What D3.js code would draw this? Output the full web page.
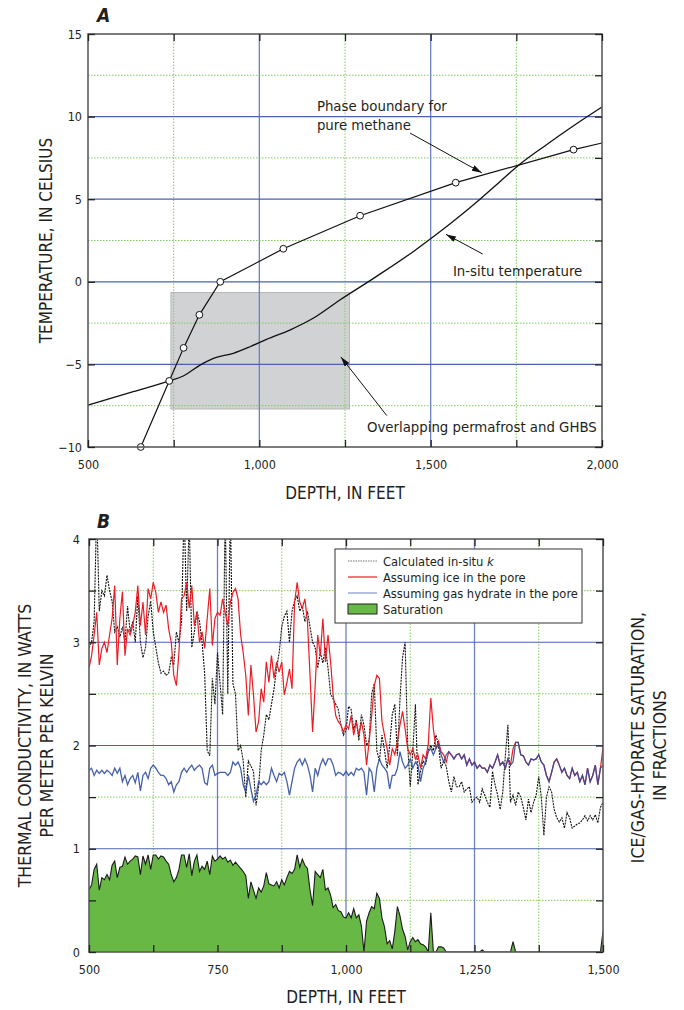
<!DOCTYPE html>
<html>
<head>
<meta charset="utf-8">
<script src="https://cdn.jsdelivr.net/npm/d3@7"></script>
<style>
  body { margin: 0; background: #fff; }
  svg text { font-family: 'Liberation Sans Narrow', 'Arial Narrow', 'DejaVu Sans Condensed', sans-serif; fill: #231f20; }
</style>
</head>
<body>
<svg id="chart"></svg>
<script>
const width = 684;
const height = 1010;

// ---- Panel A: temperature vs depth ----
const boundaryDepth = [654, 737, 779, 825, 886, 1070, 1294, 1573, 1917];
const boundaryTemp = [-10, -6, -4, -2, 0, 2, 4, 6, 8];
const boundaryEndDepth = 2000;
const boundaryEndTemp = 8.4;

const insituDepth = [500, 632, 737, 778, 827, 866, 924, 973, 1021, 1089, 1157, 1235, 1340, 1454, 1493, 1556, 1644, 1702, 1761, 1838, 1916, 2000];
const insituTemp = [-7.46, -6.65, -6.0, -5.7, -5.04, -4.63, -4.33, -3.93, -3.48, -2.92, -2.21, -1.1, 0.3, 1.9, 2.5, 3.5, 5.0, 6.06, 7.13, 8.3, 9.43, 10.58];

const overlapDepth = [742, 1263];
const overlapTemp = [-7.7, -0.65];

const tempLabels = [-10, -5, 0, 5, 10, 15];
const tempTicksRight = [-10, -7.5, -5, -2.5, 0, 2.5, 5, 7.5, 10, 12.5, 15];
const depthLabelsA = [500, 1000, 1500, 2000];
const depthTicksA = [500, 750, 1000, 1250, 1500, 1750, 2000];

// ---- Panel B: thermal conductivity logs ----
const logDepth = [
  500,505,510,515,520,525,530,535,540,545,550,555,560,565,570,575,580,585,590,595,
  600,605,610,615,620,625,630,635,640,645,650,655,660,665,670,675,680,685,690,695,
  700,705,710,715,720,725,730,735,740,745,750,755,760,765,770,775,780,785,790,795,
  800,805,810,815,820,825,830,835,840,845,850,855,860,865,870,875,880,885,890,895,
  900,905,910,915,920,925,930,935,940,945,950,955,960,965,970,975,980,985,990,995,
  1000,1005,1010,1015,1020,1025,1030,1035,1040,1045,1050,1055,1060,1065,1070,1075,1080,1085,1090,1095,
  1100,1105,1110,1115,1120,1125,1130,1135,1140,1145,1150,1155,1160,1165,1170,1175,1180,1185,1190,1195,
  1200,1205,1210,1215,1220,1225,1230,1235,1240,1245,1250,1255,1260,1265,1270,1275,1280,1285,1290,1295,
  1300,1305,1310,1315,1320,1325,1330,1335,1340,1345,1350,1355,1360,1365,1370,1375,1380,1385,1390,1395,
  1400,1405,1410,1415,1420,1425,1430,1435,1440,1445,1450,1455,1460,1465,1470,1475,1480,1485,1490,1495,
  1500
];

const kCalculated = [
  2.95,3.0,3.2,4.3,3.3,3.5,3.45,3.65,3.5,3.4,3.1,3.15,3.05,3.15,3.0,3.35,3.1,3.2,3.0,3.45,
  3.0,2.85,2.95,3.25,3.4,3.1,2.95,2.8,2.7,2.72,2.68,2.7,2.85,2.78,3.1,3.0,3.2,4.3,3.3,4.2,
  2.95,3.1,3.3,3.2,3.0,2.7,1.95,1.9,2.65,2.4,2.9,2.6,2.3,4.3,2.5,4.3,2.6,2.5,1.95,2.0,
  1.85,1.5,1.85,1.8,1.75,1.42,1.6,1.95,2.1,2.3,2.25,2.4,2.55,2.75,2.9,3.15,3.25,3.3,3.0,3.3,
  3.4,3.45,3.3,3.35,3.2,3.3,3.15,3.0,2.95,2.75,2.9,2.8,2.95,2.75,2.5,2.45,2.4,2.35,2.2,2.1,
  2.15,2.38,2.35,2.15,2.25,2.05,2.3,2.2,2.0,2.05,2.5,2.6,1.95,1.85,2.1,1.95,1.78,2.0,2.3,2.4,
  1.9,2.45,2.85,3.0,2.0,1.6,1.95,2.4,1.62,1.75,1.85,1.82,1.95,2.0,1.95,2.1,2.0,1.78,1.85,1.8,
  1.65,1.55,1.7,1.6,1.6,1.65,1.55,1.58,1.6,1.45,1.48,1.5,1.45,1.58,1.52,1.45,1.4,1.75,1.62,1.52,
  1.38,1.55,1.9,2.2,1.45,1.52,1.42,1.55,1.5,1.4,1.28,1.48,1.35,1.45,1.52,1.7,1.5,1.13,1.5,1.6,
  1.55,1.38,1.3,1.26,1.3,1.2,1.35,1.3,1.2,1.22,1.24,1.25,1.28,1.32,1.27,1.32,1.28,1.33,1.25,1.4,
  1.45
];

const kIce = [
  2.75,2.87,3.07,3.29,2.78,2.94,3.0,2.9,3.07,3.23,3.55,2.78,3.23,3.49,2.87,3.13,3.07,3.16,3.29,3.55,
  3.16,3.39,3.07,3.52,3.42,3.58,3.48,3.29,3.39,3.29,3.36,3.13,3.0,2.68,2.58,2.9,3.42,3.45,3.58,3.33,
  3.55,3.16,3.29,3.0,3.1,2.94,3.23,3.52,2.97,3.23,3.29,3.26,3.42,3.29,3.16,3.39,3.48,3.52,3.42,3.07,
  2.9,2.68,2.29,2.78,2.49,2.13,2.23,2.55,2.42,2.81,2.61,2.87,2.65,2.81,2.71,2.81,2.49,2.61,2.74,2.55,
  3.39,3.58,3.39,3.33,3.42,3.2,2.68,2.13,2.58,3.07,2.87,3.23,2.81,3.07,2.81,2.49,2.29,2.23,2.2,2.13,
  2.2,2.16,2.29,2.1,2.23,2.1,2.23,2.1,1.81,2.04,2.29,2.58,2.68,2.65,2.23,2.1,1.97,1.81,1.97,1.91,
  2.04,2.2,2.33,2.16,1.97,1.91,1.97,1.87,1.91,1.78,1.91,1.87,2.01,2.46,2.16,1.97,2.04,1.94,1.91,1.84,
  1.94,1.91,1.87,1.91,1.92,1.87,1.91,1.81,1.87,1.81,1.84,1.78,1.81,1.78,1.78,1.74,1.81,1.78,1.84,1.91,
  1.81,1.84,1.78,1.87,1.81,1.97,2.03,2.03,1.91,1.9,1.84,1.81,1.87,1.86,1.87,1.91,1.84,1.81,1.71,1.65,
  1.74,1.84,1.87,1.81,1.74,1.78,1.71,1.68,1.78,1.71,1.74,1.65,1.71,1.62,1.78,1.65,1.71,1.81,1.62,1.78,
  1.98
];

const kHydrate = [
  1.76,1.78,1.71,1.76,1.73,1.76,1.73,1.76,1.74,1.71,1.78,1.73,1.78,1.65,1.71,1.62,1.68,1.71,1.64,1.74,
  1.56,1.71,1.74,1.68,1.78,1.81,1.78,1.74,1.71,1.71,1.68,1.62,1.65,1.55,1.62,1.65,1.74,1.78,1.74,1.78,
  1.81,1.76,1.79,1.81,1.78,1.64,1.62,1.78,1.81,1.71,1.73,1.74,1.74,1.74,1.71,1.74,1.84,1.81,1.84,1.78,
  1.62,1.55,1.71,1.58,1.46,1.52,1.65,1.62,1.65,1.62,1.65,1.78,1.71,1.65,1.73,1.71,1.74,1.65,1.52,1.65,
  1.78,1.84,1.87,1.81,1.87,1.81,1.71,1.55,1.78,1.71,1.81,1.87,1.81,1.87,1.87,1.81,1.71,1.74,1.73,1.71,
  1.75,1.71,1.74,1.71,1.78,1.76,1.78,1.74,1.52,1.78,1.74,1.55,1.78,1.87,1.81,1.78,1.74,1.58,1.71,1.71,
  1.78,1.94,1.84,1.78,1.81,1.87,1.78,1.84,1.81,1.65,1.78,1.84,1.94,1.97,1.91,1.97,2.01,1.91,1.84,1.91,
  1.94,1.91,1.87,1.91,1.92,1.87,1.91,1.81,1.87,1.81,1.84,1.78,1.81,1.78,1.78,1.74,1.81,1.78,1.84,1.91,
  1.81,1.84,1.78,1.87,1.81,1.84,2.03,2.03,1.91,1.9,1.84,1.81,1.87,1.86,1.87,1.91,1.84,1.81,1.71,1.65,
  1.74,1.84,1.87,1.81,1.74,1.78,1.71,1.68,1.78,1.71,1.74,1.65,1.71,1.62,1.78,1.65,1.71,1.81,1.62,1.78,
  1.81
];

const saturation = [
  0.6,0.65,0.8,0.85,0.6,0.72,0.7,0.75,0.7,0.84,0.88,0.72,0.82,0.83,0.92,0.85,0.88,0.9,0.93,0.92,
  0.75,0.93,0.85,0.94,0.8,0.94,0.94,0.9,0.93,0.92,0.88,0.85,0.75,0.68,0.72,0.8,0.94,0.94,0.82,0.95,
  0.74,0.88,0.94,0.78,0.83,0.8,0.88,0.75,0.93,0.88,0.9,0.93,0.9,0.92,0.87,0.89,0.84,0.87,0.84,0.81,
  0.78,0.74,0.52,0.68,0.6,0.52,0.62,0.58,0.64,0.77,0.66,0.65,0.64,0.68,0.62,0.7,0.65,0.72,0.78,0.76,
  0.8,0.94,0.82,0.9,0.84,0.81,0.6,0.45,0.78,0.75,0.72,0.8,0.6,0.62,0.55,0.43,0.46,0.4,0.39,0.34,
  0.33,0.38,0.33,0.42,0.33,0.36,0.25,0.0,0.3,0.38,0.44,0.42,0.57,0.52,0.33,0.24,0.08,0.11,0.03,0.2,
  0.44,0.35,0.22,0.15,0.02,0.1,0.14,0.1,0.12,0.08,0.07,0.05,0.0,0.38,0.0,0.0,0.05,0.05,0.04,0.0,
  0,0,0,0,0,0,0,0,0,0,0,0,0,0.02,0,0,0,0,0,0,
  0,0,0,0,0,0.1,0,0,0,0,0,0,0,0,0,0,0,0,0,0,
  0,0,0,0,0,0,0,0,0,0,0,0,0,0,0,0,0,0,0,0,
  0.2
];

const kLabels = [0, 1, 2, 3, 4];
const kTicks = [0, 0.5, 1, 1.5, 2, 2.5, 3, 3.5, 4];
const depthLabelsB = [500, 750, 1000, 1250, 1500];
const depthTicksB = [500, 625, 750, 875, 1000, 1125, 1250, 1375, 1500];

const legendNames = ["Calculated in-situ ", "Assuming ice in the pore", "Assuming gas hydrate in the pore", "Saturation"];

const RED = "#ec1c24";
const BLUE = "#2c4b9e";
const GREEN = "#68b845";
const GRID_BLUE = "#4a63ad";
const GRID_GREEN = "#7fcc5c";

const svg = d3.select("#chart").attr("width", width).attr("height", height);
const defs = svg.append("defs");

defs.append("marker")
  .attr("id", "arrow")
  .attr("viewBox", "0 0 10 6")
  .attr("refX", 10).attr("refY", 3)
  .attr("markerWidth", 10).attr("markerHeight", 6)
  .attr("markerUnits", "userSpaceOnUse")
  .attr("orient", "auto")
  .append("path").attr("d", "M0,0L10,3L0,6Z").attr("fill", "#111");

const fmt = d3.format(",");

function grid(g, x, y, majorX, minorX, majorY, minorY) {
  const [x0, x1] = x.range();
  const [y0, y1] = y.range();
  g.selectAll(null).data(minorX).join("line")
    .attr("x1", d => x(d)).attr("x2", d => x(d)).attr("y1", y0).attr("y2", y1)
    .attr("stroke", GRID_GREEN).attr("stroke-width", 1).attr("stroke-dasharray", "1.5,1.5");
  g.selectAll(null).data(minorY).join("line")
    .attr("x1", x0).attr("x2", x1).attr("y1", d => y(d)).attr("y2", d => y(d))
    .attr("stroke", GRID_GREEN).attr("stroke-width", 1).attr("stroke-dasharray", "1.5,1.5");
  g.selectAll(null).data(majorX).join("line")
    .attr("x1", d => x(d)).attr("x2", d => x(d)).attr("y1", y0).attr("y2", y1)
    .attr("stroke", "#6e80c2").attr("stroke-width", 1.3);
  g.selectAll(null).data(majorY).join("line")
    .attr("x1", x0).attr("x2", x1).attr("y1", d => y(d)).attr("y2", d => y(d))
    .attr("stroke", GRID_BLUE).attr("stroke-width", 1.2);
}

function styleAxis(sel) {
  sel.select(".domain").remove();
  sel.selectAll(".tick line").attr("stroke", "#222").attr("stroke-width", 1.3);
  sel.selectAll(".tick text").style("font-size", "12.5px").attr("fill", "#231f20");
}

function frame(g, x, y) {
  const [x0, x1] = x.range();
  const [y0, y1] = y.range();
  g.append("rect").attr("x", x0).attr("y", y1).attr("width", x1 - x0).attr("height", y0 - y1)
    .attr("fill", "none").attr("stroke", "#5c5c5c").attr("stroke-width", 1.6);
}

function axes(g, x, y, xTicks, xLabels, yTicks, yLabels, yTicksRight, yPad) {
  const [x0, x1] = x.range();
  const [y0, y1] = y.range();
  g.append("g").attr("transform", `translate(0,${y0})`)
    .call(d3.axisBottom(x).tickValues(xTicks).tickSizeInner(-7).tickSizeOuter(0).tickPadding(13)
      .tickFormat(d => xLabels.includes(d) ? fmt(d) : ""))
    .call(styleAxis);
  g.append("g").attr("transform", `translate(0,${y1})`)
    .call(d3.axisTop(x).tickValues(xTicks).tickSizeInner(-7).tickSizeOuter(0).tickFormat(""))
    .call(styleAxis);
  g.append("g").attr("transform", `translate(${x0},0)`)
    .call(d3.axisLeft(y).tickValues(yTicks).tickSizeInner(-7).tickSizeOuter(0).tickPadding(yPad)
      .tickFormat(d => yLabels.includes(d) ? fmt(d) : ""))
    .call(styleAxis);
  g.append("g").attr("transform", `translate(${x1},0)`)
    .call(d3.axisRight(y).tickValues(yTicksRight).tickSizeInner(-7).tickSizeOuter(0).tickFormat(""))
    .call(styleAxis);
}

// ================= Panel A =================
const xA = d3.scaleLinear().domain([500, 2000]).range([88, 602]);
const yA = d3.scaleLinear().domain([-10, 15]).range([447, 34]);
const gA = svg.append("g");

gA.append("rect")
  .attr("x", xA(overlapDepth[0])).attr("y", yA(overlapTemp[1]))
  .attr("width", xA(overlapDepth[1]) - xA(overlapDepth[0]))
  .attr("height", yA(overlapTemp[0]) - yA(overlapTemp[1]))
  .attr("fill", "#d1d2d4").attr("stroke", "#b5b6b8").attr("stroke-width", 1);

grid(gA, xA, yA, [1000, 1500], [750, 1250, 1750], [-5, 0, 5, 10], [-7.5, -2.5, 2.5, 7.5, 12.5]);

const insitu = insituDepth.map((d, i) => [d, insituTemp[i]]);
gA.append("path").datum(insitu)
  .attr("d", d3.line().x(d => xA(d[0])).y(d => yA(d[1])).curve(d3.curveMonotoneX))
  .attr("fill", "none").attr("stroke", "#111").attr("stroke-width", 1.3);

const boundary = boundaryDepth.map((d, i) => [d, boundaryTemp[i]]);
gA.append("path").datum(boundary.concat([[boundaryEndDepth, boundaryEndTemp]]))
  .attr("d", d3.line().x(d => xA(d[0])).y(d => yA(d[1])))
  .attr("fill", "none").attr("stroke", "#111").attr("stroke-width", 1.2);

gA.selectAll("circle.pt").data(boundary).join("circle")
  .attr("class", "pt")
  .attr("cx", d => xA(d[0])).attr("cy", d => yA(d[1])).attr("r", 3.4)
  .attr("fill", "#fff").attr("stroke", "#111").attr("stroke-width", 1);

frame(gA, xA, yA);
axes(gA, xA, yA, depthTicksA, depthLabelsA, tempLabels, tempLabels, tempTicksRight, 6);

// annotations (positions in data units)
const notes = [
  { lines: ["Phase boundary for", "pure methane"], at: [1168, 10.34], from: [1440, 9.0], to: [1649, 6.6] },
  { lines: ["In-situ temperature"], at: [1565, 0.35], from: [1652, 1.68], to: [1545, 2.87] },
  { lines: ["Overlapping permafrost and GHBS"], at: [1314, -9.09], from: [1372, -8.1], to: [1238, -4.55] }
];
notes.forEach(n => {
  const t = gA.append("text").attr("x", xA(n.at[0])).attr("y", yA(n.at[1])).style("font-size", "14.8px");
  n.lines.forEach((l, i) => t.append("tspan").attr("x", xA(n.at[0])).attr("dy", i ? 19.5 : 0).text(l));
  gA.append("line")
    .attr("x1", xA(n.from[0])).attr("y1", yA(n.from[1]))
    .attr("x2", xA(n.to[0])).attr("y2", yA(n.to[1]))
    .attr("stroke", "#111").attr("stroke-width", 1).attr("marker-end", "url(#arrow)");
});

gA.append("text").attr("x", 97).attr("y", 22).text("A")
  .style("font-size", "19px").style("font-weight", "bold").style("font-style", "italic");
gA.append("text").attr("x", (xA.range()[0] + xA.range()[1]) / 2).attr("y", 499)
  .attr("text-anchor", "middle").style("font-size", "17px").text("DEPTH, IN FEET");
gA.append("text").attr("transform", `translate(52,${(yA.range()[0] + yA.range()[1]) / 2}) rotate(-90)`)
  .attr("text-anchor", "middle").style("font-size", "17px").text("TEMPERATURE, IN CELSIUS");

// ================= Panel B =================
const xB = d3.scaleLinear().domain([500, 1500]).range([89, 603]);
const yB = d3.scaleLinear().domain([0, 4]).range([952, 539]);
const gB = svg.append("g");

defs.append("clipPath").attr("id", "clipB").append("rect")
  .attr("x", xB.range()[0]).attr("y", yB.range()[1])
  .attr("width", xB.range()[1] - xB.range()[0]).attr("height", yB.range()[0] - yB.range()[1]);

grid(gB, xB, yB, [750, 1000, 1250], [625, 875, 1125, 1375], [1, 2, 3], [0.5, 1.5, 2.5, 3.5]);

const plotB = gB.append("g").attr("clip-path", "url(#clipB)");

const satArea = d3.area()
  .x((d, i) => xB(logDepth[i])).y0(yB(0)).y1(d => yB(d));
const logLine = d3.line().x((d, i) => xB(logDepth[i])).y(d => yB(d));
plotB.append("path").datum(saturation).attr("d", satArea).attr("fill", GREEN);
plotB.append("path").datum(saturation).attr("d", logLine)
  .attr("fill", "none").attr("stroke", "#1a1a1a").attr("stroke-width", 1.1);

plotB.append("path").datum(kCalculated).attr("d", logLine)
  .attr("fill", "none").attr("stroke", "#111").attr("stroke-width", 1.1)
  .attr("stroke-dasharray", "2,1");
plotB.append("path").datum(kIce).attr("d", logLine)
  .attr("fill", "none").attr("stroke", RED).attr("stroke-width", 1.2);
plotB.append("path").datum(kHydrate).attr("d", logLine)
  .attr("fill", "none").attr("stroke", BLUE).attr("stroke-width", 1.3).attr("stroke-opacity", 0.88);

frame(gB, xB, yB);
axes(gB, xB, yB, depthTicksB, depthLabelsB, kTicks, kLabels, kTicks, 9);

// legend
const lg = gB.append("g").attr("transform", `translate(${xB.range()[1] - 268},${yB.range()[1] + 10})`);
lg.append("rect").attr("width", 247).attr("height", 74)
  .attr("fill", "#fff").attr("stroke", "#333").attr("stroke-width", 1);
const legendStyles = [
  { stroke: "#777", dash: "1.5,1" },
  { stroke: RED },
  { stroke: "#8194cf" },
  { fill: GREEN }
];
legendNames.forEach((name, i) => {
  const cy = 12 + i * 16;
  const s = legendStyles[i];
  if (s.fill) {
    lg.append("rect").attr("x", 13).attr("y", cy - 5).attr("width", 29).attr("height", 10)
      .attr("fill", s.fill).attr("stroke", "#222").attr("stroke-width", 1);
  } else {
    lg.append("line").attr("x1", 13).attr("x2", 42).attr("y1", cy).attr("y2", cy)
      .attr("stroke", s.stroke).attr("stroke-width", 1.2).attr("stroke-dasharray", s.dash || null);
  }
  const t = lg.append("text").attr("x", 48).attr("y", cy + 5).style("font-size", "12.8px").text(name);
  if (i === 0) t.append("tspan").style("font-style", "italic").text("k");
});

gB.append("text").attr("x", 97).attr("y", 528).text("B")
  .style("font-size", "19px").style("font-weight", "bold").style("font-style", "italic");
gB.append("text").attr("x", (xB.range()[0] + xB.range()[1]) / 2).attr("y", 1003)
  .attr("text-anchor", "middle").style("font-size", "17px").text("DEPTH, IN FEET");

const midB = (yB.range()[0] + yB.range()[1]) / 2;
gB.append("text").attr("transform", `translate(31,${midB}) rotate(-90)`)
  .attr("text-anchor", "middle").style("font-size", "17.5px").text("THERMAL CONDUCTIVITY, IN WATTS");
gB.append("text").attr("transform", `translate(53,${midB}) rotate(-90)`)
  .attr("text-anchor", "middle").style("font-size", "17.5px").text("PER METER PER KELVIN");
gB.append("text").attr("transform", `translate(644,${midB - 8}) rotate(-90)`)
  .attr("text-anchor", "middle").style("font-size", "17.5px").text("ICE/GAS-HYDRATE SATURATION,");
gB.append("text").attr("transform", `translate(666,${midB}) rotate(-90)`)
  .attr("text-anchor", "middle").style("font-size", "17.5px").text("IN FRACTIONS");
</script>
</body>
</html>
